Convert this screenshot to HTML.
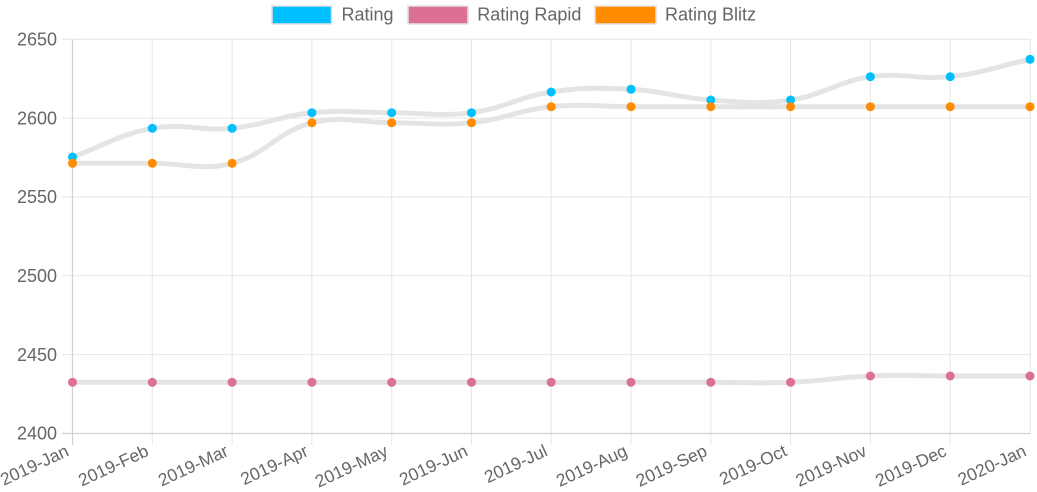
<!DOCTYPE html>
<html>
<head>
<meta charset="utf-8">
<style>
  html,body{margin:0;padding:0;background:#fff;}
  svg{display:block;}
  text{font-family:"Liberation Sans",Arial,sans-serif;fill:#666;}
</style>
</head>
<body>
<svg width="1037" height="492" viewBox="0 0 1037 492" xmlns="http://www.w3.org/2000/svg">
  <!-- Legend -->
  <rect x="272" y="6" width="59.5" height="18" fill="#00bfff" stroke="#e2e2e2" stroke-width="1.5"/>
  <text x="341.5" y="20.7" font-size="18">Rating</text>
  <rect x="408" y="6" width="60" height="18" fill="#db7093" stroke="#e2e2e2" stroke-width="1.5"/>
  <text x="477.3" y="20.7" font-size="18">Rating Rapid</text>
  <rect x="595" y="6" width="61" height="18" fill="#ff8c00" stroke="#e2e2e2" stroke-width="1.5"/>
  <text x="665" y="20.7" font-size="18">Rating Blitz</text>

  <!-- Horizontal grid -->
  <g stroke="#e6e6e6" stroke-width="1">
    <line x1="62" y1="39.3" x2="1030.5" y2="39.3"/>
    <line x1="62" y1="118.1" x2="1030.5" y2="118.1"/>
    <line x1="62" y1="197" x2="1030.5" y2="197"/>
    <line x1="62" y1="275.8" x2="1030.5" y2="275.8"/>
    <line x1="62" y1="354.6" x2="1030.5" y2="354.6"/>
  </g>
  <!-- Vertical grid -->
  <g stroke="#e6e6e6" stroke-width="1">
    <line x1="152.3" y1="39.3" x2="152.3" y2="445"/>
    <line x1="232.1" y1="39.3" x2="232.1" y2="445"/>
    <line x1="311.9" y1="39.3" x2="311.9" y2="445"/>
    <line x1="391.7" y1="39.3" x2="391.7" y2="445"/>
    <line x1="471.5" y1="39.3" x2="471.5" y2="445"/>
    <line x1="551.2" y1="39.3" x2="551.2" y2="445"/>
    <line x1="631.0" y1="39.3" x2="631.0" y2="445"/>
    <line x1="710.8" y1="39.3" x2="710.8" y2="445"/>
    <line x1="790.6" y1="39.3" x2="790.6" y2="445"/>
    <line x1="870.4" y1="39.3" x2="870.4" y2="445"/>
    <line x1="950.2" y1="39.3" x2="950.2" y2="445"/>
    <line x1="1030.3" y1="39.3" x2="1030.3" y2="434"/>
  </g>
  <!-- Axes -->
  <line x1="72.5" y1="39.3" x2="72.5" y2="445" stroke="#d2d2d2" stroke-width="1.2"/>
  <line x1="62" y1="433.5" x2="1030.5" y2="433.5" stroke="#d2d2d2" stroke-width="1.2"/>

  <!-- Y labels -->
  <g font-size="18" text-anchor="end">
    <text x="57" y="45.5">2650</text>
    <text x="57" y="124.3">2600</text>
    <text x="57" y="203.2">2550</text>
    <text x="57" y="282">2500</text>
    <text x="57" y="360.8">2450</text>
    <text x="57" y="439.7">2400</text>
  </g>

  <!-- X labels -->
  <g font-size="17.5" text-anchor="end">
    <text transform="translate(70,455) rotate(-25)">2019-Jan</text>
    <text transform="translate(149.8,455) rotate(-25)">2019-Feb</text>
    <text transform="translate(229.6,455) rotate(-25)">2019-Mar</text>
    <text transform="translate(309.4,455) rotate(-25)">2019-Apr</text>
    <text transform="translate(389.2,455) rotate(-25)">2019-May</text>
    <text transform="translate(469,455) rotate(-25)">2019-Jun</text>
    <text transform="translate(548.7,455) rotate(-25)">2019-Jul</text>
    <text transform="translate(628.5,455) rotate(-25)">2019-Aug</text>
    <text transform="translate(708.3,455) rotate(-25)">2019-Sep</text>
    <text transform="translate(788.1,455) rotate(-25)">2019-Oct</text>
    <text transform="translate(867.9,455) rotate(-25)">2019-Nov</text>
    <text transform="translate(947.7,455) rotate(-25)">2019-Dec</text>
    <text transform="translate(1027.5,455) rotate(-25)">2020-Jan</text>
  </g>

  <!-- Series lines -->
  <g fill="none" stroke="#e4e4e4" stroke-width="5" stroke-linecap="round" stroke-linejoin="round">
    <path d="M72.5,157 C104.4,145.5 120.4,134.0 152.3,128.3 C184.2,122.6 200.2,131.4 232.1,128.3 C264.0,125.2 280.0,115.8 311.9,112.7 C343.8,109.6 359.8,112.7 391.7,112.7 C423.6,112.7 439.6,116.8 471.5,112.7 C503.4,108.6 519.3,96.7 551.2,92 C583.1,87.3 599.1,87.7 631.0,89.3 C662.9,90.9 678.9,97.9 710.8,100 C742.7,102.1 758.7,104.7 790.6,100 C822.5,95.3 838.5,81.4 870.4,76.7 C902.3,72.0 918.3,80.2 950.2,76.7 C982.1,73.2 998.1,66.3 1030,59.3"/>
    <path d="M72.5,382.3 L710.8,382.3 C742.7,382.3 758.7,383.6 790.6,382.3 C822.5,381.0 838.5,377.3 870.4,376 C902.3,374.7 918.3,376 950.2,376 L1030,376"/>
    <path d="M72.5,163.3 C104.4,163.3 120.4,163.3 152.3,163.3 C184.2,163.3 202.0,171.0 232.1,163.3 C265.9,154.7 278.1,131.3 311.9,122.7 C342.0,115.1 359.8,122.7 391.7,122.7 C423.6,122.7 439.6,125.9 471.5,122.7 C503.4,119.5 519.3,109.9 551.2,106.7 C583.1,103.5 599.1,106.7 631.0,106.7 L1030,106.7"/>
  </g>

  <!-- Rating points -->
  <g fill="#00bfff">
    <circle cx="72.5" cy="157" r="4.5"/>
    <circle cx="152.3" cy="128.3" r="4.5"/>
    <circle cx="232.1" cy="128.3" r="4.5"/>
    <circle cx="311.9" cy="112.7" r="4.5"/>
    <circle cx="391.7" cy="112.7" r="4.5"/>
    <circle cx="471.5" cy="112.7" r="4.5"/>
    <circle cx="551.2" cy="92" r="4.5"/>
    <circle cx="631.0" cy="89.3" r="4.5"/>
    <circle cx="710.8" cy="100" r="4.5"/>
    <circle cx="790.6" cy="100" r="4.5"/>
    <circle cx="870.4" cy="76.7" r="4.5"/>
    <circle cx="950.2" cy="76.7" r="4.5"/>
    <circle cx="1030" cy="59.3" r="4.5"/>
  </g>
  <!-- Rapid points -->
  <g fill="#db7093">
    <circle cx="72.5" cy="382.3" r="4.5"/>
    <circle cx="152.3" cy="382.3" r="4.5"/>
    <circle cx="232.1" cy="382.3" r="4.5"/>
    <circle cx="311.9" cy="382.3" r="4.5"/>
    <circle cx="391.7" cy="382.3" r="4.5"/>
    <circle cx="471.5" cy="382.3" r="4.5"/>
    <circle cx="551.2" cy="382.3" r="4.5"/>
    <circle cx="631.0" cy="382.3" r="4.5"/>
    <circle cx="710.8" cy="382.3" r="4.5"/>
    <circle cx="790.6" cy="382.3" r="4.5"/>
    <circle cx="870.4" cy="376" r="4.5"/>
    <circle cx="950.2" cy="376" r="4.5"/>
    <circle cx="1030" cy="376" r="4.5"/>
  </g>
  <!-- Blitz points -->
  <g fill="#ff8c00">
    <circle cx="72.5" cy="163.3" r="4.5"/>
    <circle cx="152.3" cy="163.3" r="4.5"/>
    <circle cx="232.1" cy="163.3" r="4.5"/>
    <circle cx="311.9" cy="122.7" r="4.5"/>
    <circle cx="391.7" cy="122.7" r="4.5"/>
    <circle cx="471.5" cy="122.7" r="4.5"/>
    <circle cx="551.2" cy="106.7" r="4.5"/>
    <circle cx="631.0" cy="106.7" r="4.5"/>
    <circle cx="710.8" cy="106.7" r="4.5"/>
    <circle cx="790.6" cy="106.7" r="4.5"/>
    <circle cx="870.4" cy="106.7" r="4.5"/>
    <circle cx="950.2" cy="106.7" r="4.5"/>
    <circle cx="1030" cy="106.7" r="4.5"/>
  </g>
</svg>
</body>
</html>
